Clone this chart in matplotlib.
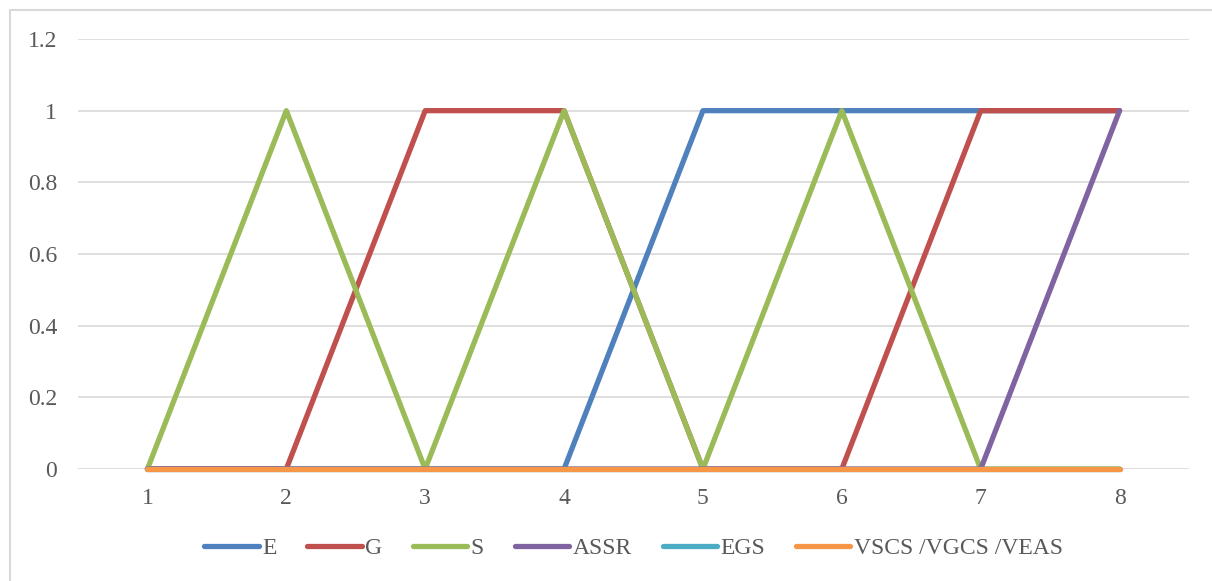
import matplotlib.pyplot as plt
from matplotlib.patches import Rectangle

categories = [1, 2, 3, 4, 5, 6, 7, 8]
e_values = [0, 0, 0, 0, 1, 1, 1, 1]
g_values = [0, 0, 1, 1, 0, 0, 1, 1]
s_values = [0, 1, 0, 1, 0, 1, 0, 0]
assr_values = [0, 0, 0, 0, 0, 0, 0, 1]
egs_values = [0, 0, 0, 0, 0, 0, 0, 0]
vscs_values = [0, 0, 0, 0, 0, 0, 0, 0]
y_ticks = [0, 0.2, 0.4, 0.6, 0.8, 1, 1.2]
y_labels = ["0", "0.2", "0.4", "0.6", "0.8", "1", "1.2"]

series = [
    ("E", e_values, "#4F81BD"),
    ("G", g_values, "#C0504D"),
    ("S", s_values, "#9BBB59"),
    ("ASSR", assr_values, "#8064A2"),
    ("EGS", egs_values, "#4BACC6"),
    ("VSCS /VGCS /VEAS", vscs_values, "#F79646"),
]

plt.rcParams['font.family'] = ['Liberation Serif', 'DejaVu Serif']

fig = plt.figure(figsize=(12.12, 5.81), dpi=100)
ax = fig.add_axes([78 / 1212, 1 - 469 / 581, (1189 - 78) / 1212, (469 - 39) / 581])

# outer chart frame, runs off the right and bottom edges
fig.patches.append(Rectangle((10 / 1212, -0.1), 1.2, 1 - 10 / 581 + 0.1,
                             transform=fig.transFigure, fill=False,
                             edgecolor="#D9D9D9", linewidth=1.5))

for label, vals, color in series:
    ax.plot(categories, vals, color=color, linewidth=3.8, label=label,
            solid_capstyle="round", solid_joinstyle="round", zorder=3,
            clip_on=False)

ax.set_xlim(0.5, 8.5)
ax.set_ylim(0, 1.2)
ax.set_yticks(y_ticks)
ax.set_yticklabels(y_labels)
ax.set_xticks(categories)
ax.set_xticklabels([str(c) for c in categories])
ax.grid(True, axis="y", color="#D9D9D9", linewidth=1.2)
ax.set_axisbelow(True)
for sp in ax.spines.values():
    sp.set_visible(False)
ax.tick_params(axis="both", length=0, labelsize=17, colors="#595959")
ax.tick_params(axis="y", pad=15)
ax.tick_params(axis="x", pad=14)

leg = ax.legend(loc="center", bbox_to_anchor=(0.5, (469 - 548) / (469 - 39)),
                ncol=6, frameon=False, fontsize=17, handlelength=2.3,
                handletextpad=0.15, columnspacing=1.3)
for t in leg.get_texts():
    t.set_color("#595959")
for h in leg.legend_handles:
    h.set_solid_capstyle("round")

fig.savefig("out.png", dpi=100)
